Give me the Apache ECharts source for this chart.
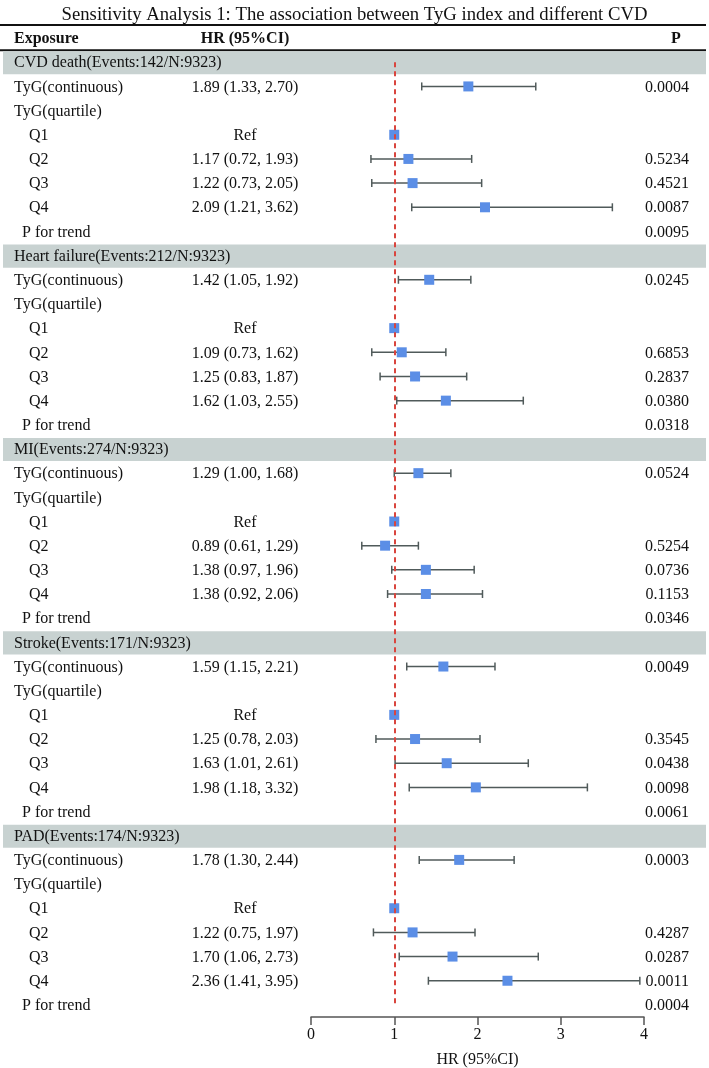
<!DOCTYPE html>
<html lang="en">
<head>
    <meta charset="UTF-8">
    <title>Sensitivity Analysis 1</title>
    <style>
        html, body { margin: 0; padding: 0; background: #fff; }
        #chart { width: 709px; height: 1068px; }
    </style>
</head>
<body>
    <div id="chart"></div>
<script src="https://cdn.jsdelivr.net/npm/echarts@6/dist/echarts.min.js"></script>
<script>
    // data
    var outcomes = ['CVD death(Events:142/N:9323)', 'Heart failure(Events:212/N:9323)', 'MI(Events:274/N:9323)', 'Stroke(Events:171/N:9323)', 'PAD(Events:174/N:9323)'];
    // per outcome: continuous, Q2, Q3, Q4
    var hrValues = [[1.89, 1.17, 1.22, 2.09], [1.42, 1.09, 1.25, 1.62], [1.29, 0.89, 1.38, 1.38], [1.59, 1.25, 1.63, 1.98], [1.78, 1.22, 1.70, 2.36]];
    var ciLower = [[1.33, 0.72, 0.73, 1.21], [1.05, 0.73, 0.83, 1.03], [1.00, 0.61, 0.97, 0.92], [1.15, 0.78, 1.01, 1.18], [1.30, 0.75, 1.06, 1.41]];
    var ciUpper = [[2.70, 1.93, 2.05, 3.62], [1.92, 1.62, 1.87, 2.55], [1.68, 1.29, 1.96, 2.06], [2.21, 2.03, 2.61, 3.32], [2.44, 1.97, 2.73, 3.95]];
    var pValues = [['0.0004', '0.5234', '0.4521', '0.0087'], ['0.0245', '0.6853', '0.2837', '0.0380'], ['0.0524', '0.5254', '0.0736', '0.1153'], ['0.0049', '0.3545', '0.0438', '0.0098'], ['0.0003', '0.4287', '0.0287', '0.0011']];
    var pTrend = ['0.0095', '0.0318', '0.0346', '0.0061', '0.0004'];
    var refHR = 1;

    var FONT = 'Liberation Serif';
    var TXT = '#111';

    function fmt(v) { return v.toFixed(2); }

    // build the table rows (row 0 is the column header)
    var rows = [{ type: 'head' }];
    outcomes.forEach(function (name, k) {
        rows.push({ type: 'band', label: name });
        rows.push({ type: 'row', label: 'TyG(continuous)', x: 14, hr: hrValues[k][0], lo: ciLower[k][0], hi: ciUpper[k][0], p: pValues[k][0] });
        rows.push({ type: 'row', label: 'TyG(quartile)', x: 14 });
        rows.push({ type: 'row', label: 'Q1', x: 29, ref: true });
        for (var q = 1; q < 4; q++) {
            rows.push({ type: 'row', label: 'Q' + (q + 1), x: 29, hr: hrValues[k][q], lo: ciLower[k][q], hi: ciUpper[k][q], p: pValues[k][q] });
        }
        rows.push({ type: 'row', label: 'P for trend', x: 22, p: pTrend[k] });
    });
    var rowIds = rows.map(function (r, i) { return String(i); });

    var ciData = [], pointData = [];
    rows.forEach(function (r, i) {
        if (r.hr != null) {
            ciData.push([r.lo, r.hi, i]);
            pointData.push([r.hr, i]);
        } else if (r.ref) {
            pointData.push([refHR, i]);
        }
    });

    function txt(x, y, s, align, bold) {
        return {
            type: 'text',
            style: { x: x, y: y + 1, text: s, fill: TXT, font: (bold ? 'bold ' : '') + '16px "' + FONT + '"', textAlign: align || 'left', textVerticalAlign: 'middle' }
        };
    }

    var mChart = echarts.init(document.getElementById('chart'));
    var option = {
        animation: false,
        title: {
            text: 'Sensitivity Analysis 1: The association between TyG index and different CVD',
            left: 'center',
            top: 1,
            textStyle: { fontFamily: FONT, fontSize: 18.7, fontWeight: 'normal', color: TXT }
        },
        grid: [
            { left: 0, right: 0, top: 26, height: 991, outerBoundsMode: 'none' }, // table
            { left: 311, right: 65, top: 26, height: 991, outerBoundsMode: 'none' } // forest
        ],
        xAxis: [
            { gridIndex: 0, type: 'value', min: 0, max: 709, show: false },
            {
                gridIndex: 1, type: 'value', min: 0, max: 4, interval: 1,
                axisLine: { show: true, lineStyle: { color: '#555', width: 1.5 } },
                axisTick: { show: true, length: 8, lineStyle: { color: '#555', width: 1.5 } },
                axisLabel: { fontFamily: FONT, fontSize: 16, color: TXT, margin: 10 },
                splitLine: { show: false },
                name: 'HR (95%CI)',
                nameLocation: 'middle',
                nameGap: 35,
                nameTextStyle: { fontFamily: FONT, fontSize: 16, color: TXT }
            }
        ],
        yAxis: [
            { gridIndex: 0, type: 'category', data: rowIds, inverse: true, show: false },
            { gridIndex: 1, type: 'category', data: rowIds, inverse: true, show: false }
        ],
        series: [
            {
                type: 'custom',
                xAxisIndex: 0,
                yAxisIndex: 0,
                data: rows.map(function (r, i) { return [0, i]; }),
                encode: { x: 0, y: 1 },
                renderItem: function (params, api) {
                    var r = rows[params.dataIndex];
                    var y = api.coord([0, params.dataIndex])[1];
                    var h = api.size([0, 1])[1];
                    var kids = [];
                    if (r.type === 'head') {
                        kids.push({ type: 'line', shape: { x1: 0, y1: y - h / 2 - 1, x2: 706, y2: y - h / 2 - 1 }, style: { stroke: TXT, lineWidth: 2 } });
                        kids.push({ type: 'line', shape: { x1: 0, y1: y + h / 2, x2: 706, y2: y + h / 2 }, style: { stroke: TXT, lineWidth: 2 } });
                        kids.push(txt(14, y, 'Exposure', 'left', true));
                        kids.push(txt(245, y, 'HR (95%CI)', 'center', true));
                        kids.push(txt(676, y, 'P', 'center', true));
                    } else if (r.type === 'band') {
                        kids.push({ type: 'rect', shape: { x: 3, y: y - h / 2 + 1, width: 703, height: h - 1 }, style: { fill: '#c8d2d1' } });
                        kids.push(txt(14, y, r.label));
                    } else {
                        kids.push(txt(r.x, y, r.label));
                        if (r.hr != null) kids.push(txt(245, y, fmt(r.hr) + ' (' + fmt(r.lo) + ', ' + fmt(r.hi) + ')', 'center'));
                        if (r.ref) kids.push(txt(245, y, 'Ref', 'center'));
                        if (r.p) kids.push(txt(689, y, r.p, 'right'));
                    }
                    return { type: 'group', children: kids };
                },
                silent: true,
                z: 1
            },
            {
                type: 'custom',
                xAxisIndex: 1,
                yAxisIndex: 1,
                data: ciData,
                encode: { x: [0, 1], y: 2 },
                renderItem: function (params, api) {
                    var a = api.coord([api.value(0), api.value(2)]);
                    var b = api.coord([api.value(1), api.value(2)]);
                    var st = { stroke: '#505a5a', lineWidth: 1.5 };
                    return {
                        type: 'group',
                        children: [
                            { type: 'line', shape: { x1: a[0], y1: a[1], x2: b[0], y2: b[1] }, style: st },
                            { type: 'line', shape: { x1: a[0], y1: a[1] - 4, x2: a[0], y2: a[1] + 4 }, style: st },
                            { type: 'line', shape: { x1: b[0], y1: b[1] - 4, x2: b[0], y2: b[1] + 4 }, style: st }
                        ]
                    };
                },
                clip: false,
                z: 3
            },
            {
                type: 'scatter',
                xAxisIndex: 1,
                yAxisIndex: 1,
                data: pointData,
                symbol: 'rect',
                symbolSize: 10,
                itemStyle: { color: '#5b8ee6', opacity: 1 },
                z: 4,
                markLine: {
                    silent: true,
                    symbol: 'none',
                    label: { show: false },
                    lineStyle: { color: '#d9453e', type: [5, 4], width: 2 },
                    data: [[{ coord: [refHR, 1] }, { coord: [refHR, rows.length - 1] }]]
                }
            }
        ]
    };
    mChart.setOption(option);
</script>
</body>
</html>
